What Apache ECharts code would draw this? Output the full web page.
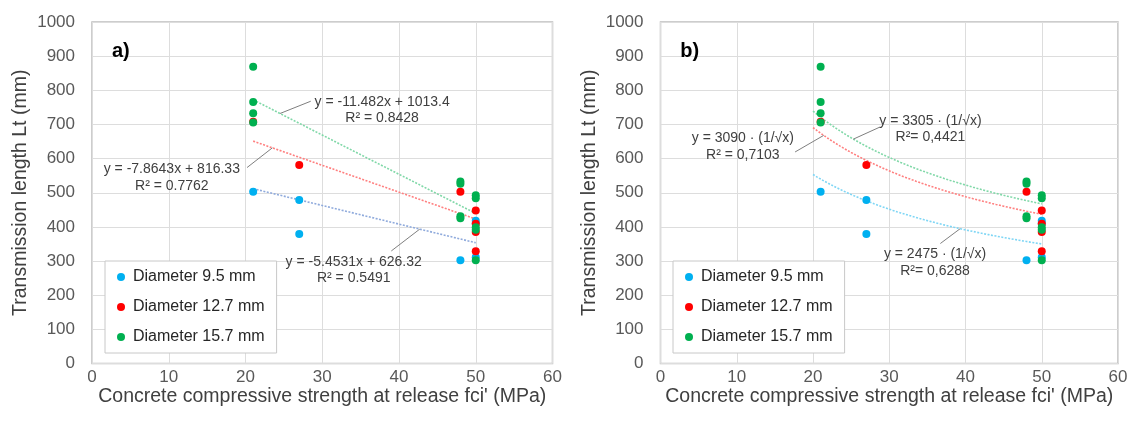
<!DOCTYPE html>
<html>
<head>
<meta charset="utf-8">
<script src="https://cdn.jsdelivr.net/npm/echarts@6/dist/echarts.min.js"></script>
<style>
  html, body { margin: 0; padding: 0; background: #fff; }
  #chart { width: 1133px; height: 430px; }
</style>
</head>
<body>
<div id="chart"></div>
<script>
// Measured transmission lengths Lt (mm) against concrete strength at release fci' (MPa)
const seriesNames = ['Diameter 9.5 mm', 'Diameter 12.7 mm', 'Diameter 15.7 mm'];
const blueX = [21, 27, 27, 48, 50, 50, 50];
const blueY = [503, 479, 379, 302, 418, 410, 311];
const redX = [21, 27, 48, 50, 50, 50, 50];
const redY = [708, 581, 503, 448, 409, 385, 329];
const greenX = [21, 21, 21, 21, 48, 48, 48, 48, 50, 50, 50, 50, 50];
const greenY = [869, 766, 733, 706, 533, 526, 431, 425, 493, 484, 399, 392, 302];

// Panel a): linear trendlines y = a·x + b
const linSlope = [-5.4531, -7.8643, -11.482];
const linIntercept = [626.32, 816.33, 1013.4];
const linR2 = ['0.5491', '0.7762', '0.8428'];
const linRange = [21, 50];

// Panel b): trendlines y = k · (1/√x)
const powCoef = [2475, 3090, 3305];
const powR2 = ['0,6288', '0,7103', '0,4421'];
const powRange = [20, 50];

const pointColors = ['#00B0F0', '#FF0000', '#00B050'];
const linColors = ['#8FAADC', '#FF8080', '#80D8A8'];
const powColors = ['#7FD6F5', '#FF8080', '#80D8A8'];
const FONT = '"Liberation Sans", Arial, sans-serif';

const pointsX = [blueX, redX, greenX];
const pointsY = [blueY, redY, greenY];

function pairs(xs, ys) { return xs.map((x, i) => [x, ys[i]]); }

function linLine(i) {
  return linRange.map(x => [x, linSlope[i] * x + linIntercept[i]]);
}
function powCurve(i) {
  const out = [];
  for (let x = powRange[0]; x <= powRange[1] + 1e-9; x += 0.5) {
    out.push([x, powCoef[i] / Math.sqrt(x)]);
  }
  return out;
}

const grids = [
  { left: 92, top: 22, width: 460.5, height: 341.5 },
  { left: 660.5, top: 22, width: 457.5, height: 341.5 }
];

function xAxisFor(idx) {
  return {
    gridIndex: idx, type: 'value', min: 0, max: 60, interval: 10,
    name: "Concrete compressive strength at release fci' (MPa)",
    nameLocation: 'middle', nameGap: 23, nameMoveOverlap: false,
    nameTextStyle: { fontFamily: FONT, fontSize: 19.5, color: '#404040' },
    axisLine: { show: false }, axisTick: { show: false },
    axisLabel: { fontFamily: FONT, fontSize: 17, color: '#595959', margin: 5 },
    splitLine: { show: true, lineStyle: { color: '#DDDDDD', width: 1 } }
  };
}
function yAxisFor(idx) {
  return {
    gridIndex: idx, type: 'value', min: 0, max: 1000, interval: 100,
    name: 'Transmission length Lt (mm)',
    nameLocation: 'middle', nameGap: 61, nameMoveOverlap: false,
    nameTextStyle: { fontFamily: FONT, fontSize: 19.5, color: '#404040' },
    axisLine: { show: false }, axisTick: { show: false },
    axisLabel: { fontFamily: FONT, fontSize: 17, color: '#595959', margin: 17, formatter: v => String(v) },
    splitLine: { show: true, lineStyle: { color: '#DDDDDD', width: 1 } }
  };
}

const series = [];
[0, 1].forEach(g => {
  for (let i = 0; i < 3; i++) {
    series.push({
      name: 'fit-' + g + '-' + i, type: 'line',
      xAxisIndex: g, yAxisIndex: g,
      data: g === 0 ? linLine(i) : powCurve(i),
      showSymbol: false, symbol: 'none', smooth: false, silent: true,
      lineStyle: { color: g === 0 ? linColors[i] : powColors[i], width: 1.6, type: [2, 1.5] },
      z: 2
    });
  }
  for (let i = 0; i < 3; i++) {
    series.push({
      name: seriesNames[i], type: 'scatter',
      xAxisIndex: g, yAxisIndex: g,
      data: pairs(pointsX[i], pointsY[i]),
      symbol: 'circle', symbolSize: 8,
      itemStyle: { color: pointColors[i], opacity: 1 },
      z: 3 + i
    });
  }
});

function legendFor(left) {
  return {
    data: seriesNames.map(n => ({ name: n, icon: 'circle' })),
    orient: 'vertical', left: left, top: 261,
    itemWidth: 8, itemHeight: 8, itemGap: 10,
    padding: [6, 12, 6, 12],
    backgroundColor: '#FFFFFF', borderColor: '#C8C8C8', borderWidth: 1,
    selectedMode: false,
    textStyle: { fontFamily: FONT, fontSize: 16, color: '#262626', lineHeight: 20, padding: [0, 0, 0, 3] }
  };
}

const chart = echarts.init(document.getElementById('chart'), null, { renderer: 'canvas' });
chart.setOption({
  backgroundColor: '#FFFFFF',
  animation: false,
  grid: grids.map(g => Object.assign({ show: true, borderColor: '#BDBDBD', borderWidth: 1.5, backgroundColor: 'transparent' }, g)),
  xAxis: [xAxisFor(0), xAxisFor(1)],
  yAxis: [yAxisFor(0), yAxisFor(1)],
  legend: [legendFor(105), legendFor(673)],
  series: series
});

// Trendline equations with leader lines, anchored in data coordinates
const eqLabels = [
  { g: 0, text: 'y = ' + linSlope[0] + 'x + ' + linIntercept[0] + '\nR² = ' + linR2[0], at: [34.1, 273], tip: [39.0, 329.6], fitX: 42.7, fit: x => linSlope[0] * x + linIntercept[0] },
  { g: 0, text: 'y = ' + linSlope[1] + 'x + ' + linIntercept[1] + '\nR² = ' + linR2[1], at: [10.4, 544], tip: [20.2, 573.8], fitX: 23.5, fit: x => linSlope[1] * x + linIntercept[1] },
  { g: 0, text: 'y = ' + linSlope[2] + 'x + ' + linIntercept[2].toFixed(1) + '\nR² = ' + linR2[2], at: [37.8, 741.5], tip: [28.5, 768], fitX: 24.5, fit: x => linSlope[2] * x + linIntercept[2] },
  { g: 1, text: 'y = ' + powCoef[0] + ' · (1/√x)\nR²= ' + powR2[0], at: [36.0, 295], tip: [36.7, 351.3], fitX: 39.3, fit: x => powCoef[0] / Math.sqrt(x) },
  { g: 1, text: 'y = ' + powCoef[1] + ' · (1/√x)\nR² = ' + powR2[1], at: [10.8, 634.7], tip: [17.65, 619.4], fitX: 21.4, fit: x => powCoef[1] / Math.sqrt(x) },
  { g: 1, text: 'y = ' + powCoef[2] + ' · (1/√x)\nR²= ' + powR2[2], at: [35.4, 686], tip: [28.8, 692.6], fitX: 25.3, fit: x => powCoef[2] / Math.sqrt(x) }
];

const graphic = [];
eqLabels.forEach(l => {
  const c = chart.convertToPixel({ gridIndex: l.g }, l.at);
  const a = chart.convertToPixel({ gridIndex: l.g }, [l.fitX, l.fit(l.fitX)]);
  const b = chart.convertToPixel({ gridIndex: l.g }, l.tip);
  graphic.push({
    type: 'line', silent: true, z: 10,
    shape: { x1: a[0], y1: a[1], x2: b[0], y2: b[1] },
    style: { stroke: '#7F7F7F', lineWidth: 1 }
  });
  graphic.push({
    type: 'text', silent: true, z: 11, x: c[0], y: c[1],
    style: { text: l.text, font: '14px ' + FONT, fill: '#404040', align: 'center', verticalAlign: 'middle', lineHeight: 16.5 }
  });
});

// Panel tags
[['a)', 0], ['b)', 1]].forEach(([t, g]) => {
  const p = chart.convertToPixel({ gridIndex: g }, [2.6, 915]);
  graphic.push({
    type: 'text', silent: true, z: 11, x: p[0], y: p[1],
    style: { text: t, font: 'bold 20px ' + FONT, fill: '#000000', align: 'left', verticalAlign: 'middle' }
  });
});

chart.setOption({ graphic: graphic });
</script>
</body>
</html>
